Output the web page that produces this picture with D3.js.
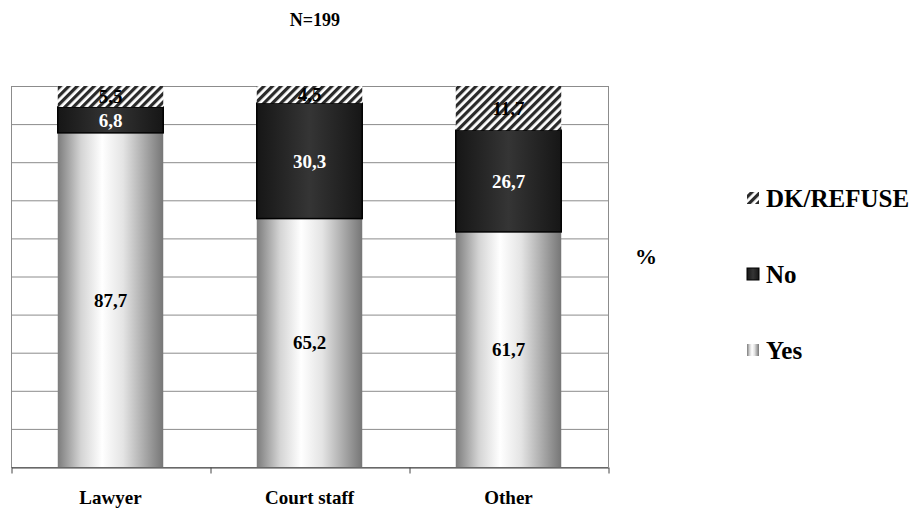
<!DOCTYPE html>
<html>
<head>
<meta charset="utf-8">
<script src="https://cdn.jsdelivr.net/npm/d3@7"></script>
<style>
  body { margin: 0; background: #fff; }
</style>
</head>
<body>
<div id="chart"></div>
<script>
const width = 914;
const height = 510;
const fontSerif = "'Liberation Serif', 'Times New Roman', 'DejaVu Serif', serif";

// datos
const categories = ['Lawyer', 'Court staff', 'Other'];
const yesValues = [87.7, 65.2, 61.7];
const noValues = [6.8, 30.3, 26.7];
const dkValues = [5.5, 4.5, 11.7];
const gridTicks = [0, 10, 20, 30, 40, 50, 60, 70, 80, 90, 100];
const legendKeys = ['DK/REFUSE', 'No', 'Yes'];
const title = 'N=199';

const plotLeft = 11;
const plotRight = 608;
const plotTop = 86;
const plotBottom = 467;

const svg = d3.select('#chart')
  .append('svg')
  .attr('width', width)
  .attr('height', height)
  .attr('font-family', fontSerif)
  .attr('font-weight', 'bold');

const defs = svg.append('defs');

// gradiente Yes
const gYes = defs.append('linearGradient').attr('id', 'gradYes')
  .attr('x1', '0%').attr('x2', '100%').attr('y1', '0%').attr('y2', '0%');
[[0, '#7c7c7c'], [0.22, '#d4d4d4'], [0.42, '#ffffff'], [0.62, '#e4e4e4'], [1, '#767676']]
  .forEach(s => gYes.append('stop').attr('offset', s[0]).attr('stop-color', s[1]));

// gradiente No
const gNo = defs.append('linearGradient').attr('id', 'gradNo')
  .attr('x1', '0%').attr('x2', '100%').attr('y1', '0%').attr('y2', '0%');
gNo.append('stop').attr('offset', '0%').attr('stop-color', '#161616');
gNo.append('stop').attr('offset', '50%').attr('stop-color', '#353535');
gNo.append('stop').attr('offset', '100%').attr('stop-color', '#161616');

// rayado DK
const pat = defs.append('pattern').attr('id', 'hatch')
  .attr('patternUnits', 'userSpaceOnUse')
  .attr('width', 6).attr('height', 6)
  .attr('patternTransform', 'rotate(45)');
pat.append('rect').attr('width', 6).attr('height', 6).attr('fill', '#ffffff');
pat.append('rect').attr('width', 3.2).attr('height', 6).attr('fill', '#2a2a2a');

const xScale = d3.scaleBand()
  .domain(categories)
  .range([plotLeft, plotRight])
  .paddingInner(0.47)
  .paddingOuter(0.235);

const xEdges = d3.scaleLinear()
  .domain([0, categories.length])
  .range([plotLeft, plotRight]);

const yScale = d3.scaleLinear()
  .domain([0, 100])
  .range([plotBottom, plotTop]);

// rejilla
svg.append('g')
  .selectAll('line')
  .data(gridTicks)
  .enter()
  .append('line')
  .attr('x1', plotLeft)
  .attr('x2', plotRight)
  .attr('y1', d => yScale(d) + 0.5)
  .attr('y2', d => yScale(d) + 0.5)
  .attr('stroke', '#8c8c8c')
  .attr('stroke-width', 1);

// bordes
svg.append('line')
  .attr('x1', plotLeft + 0.5).attr('x2', plotLeft + 0.5)
  .attr('y1', plotTop).attr('y2', plotBottom)
  .attr('stroke', '#8c8c8c');
svg.append('line')
  .attr('x1', plotRight + 0.5).attr('x2', plotRight + 0.5)
  .attr('y1', plotTop).attr('y2', plotBottom)
  .attr('stroke', '#8c8c8c');

// series apiladas
const rows = categories.map((c, i) => ({
  cat: c, yes: yesValues[i], no: noValues[i], dk: dkValues[i]
}));
const stack = d3.stack().keys(['yes', 'no', 'dk'])(rows);
const fills = { yes: 'url(#gradYes)', no: 'url(#gradNo)', dk: 'url(#hatch)' };
const labelColor = { yes: '#000', no: '#fff', dk: '#000' };

const barGroup = svg.append('g');
stack.forEach(series => {
  barGroup.selectAll('.bar-' + series.key)
    .data(series)
    .enter()
    .append('rect')
    .attr('x', d => xScale(d.data.cat))
    .attr('y', d => yScale(Math.min(d[1], 100)))
    .attr('width', xScale.bandwidth())
    .attr('height', d => yScale(d[0]) - yScale(Math.min(d[1], 100)))
    .attr('fill', fills[series.key])
    .attr('stroke', series.key === 'no' ? '#000' : 'none')
    .attr('stroke-width', 1.5);
});

// etiquetas
const fmt = v => d3.format('.1f')(v).replace('.', ',');
stack.forEach(series => {
  barGroup.selectAll('.lab-' + series.key)
    .data(series)
    .enter()
    .append('text')
    .attr('x', d => xScale(d.data.cat) + xScale.bandwidth() / 2)
    .attr('y', d => (yScale(d[0]) + yScale(Math.min(d[1], 100))) / 2)
    .attr('dy', '0.35em')
    .attr('text-anchor', 'middle')
    .attr('font-size', 19)
    .attr('fill', labelColor[series.key])
    .text(d => fmt(d.data[series.key]));
});

// eje X
const xAxis = d3.axisBottom(xEdges)
  .tickValues(d3.range(0, categories.length + 1))
  .tickSize(6)
  .tickSizeOuter(0)
  .tickFormat('');
svg.append('g')
  .attr('transform', `translate(0.5, ${plotBottom + 0.5})`)
  .call(xAxis)
  .call(g => g.selectAll('path, line').attr('stroke', '#444'));

svg.append('g')
  .selectAll('text')
  .data(categories)
  .enter()
  .append('text')
  .attr('x', d => xScale(d) + xScale.bandwidth() / 2)
  .attr('y', 504)
  .attr('text-anchor', 'middle')
  .attr('font-size', 19)
  .text(d => d);

// titulo
svg.append('text')
  .attr('x', 315)
  .attr('y', 26)
  .attr('text-anchor', 'middle')
  .attr('font-size', 18)
  .text(title);

// eje Y
svg.append('text')
  .attr('x', 646)
  .attr('y', 264)
  .attr('text-anchor', 'middle')
  .attr('font-size', 22)
  .text('%');

// leyenda
const legendY = d3.scalePoint().domain(legendKeys).range([198, 350]);
const legendFill = { 'DK/REFUSE': 'url(#hatch)', 'No': 'url(#gradNo)', 'Yes': 'url(#gradYes)' };
const legend = svg.append('g').attr('class', 'legend');
legend.selectAll('rect')
  .data(legendKeys)
  .enter()
  .append('rect')
  .attr('x', 747)
  .attr('y', d => legendY(d) - 6)
  .attr('width', 12)
  .attr('height', 12)
  .attr('fill', d => legendFill[d])
  .attr('stroke', d => d === 'No' ? '#000' : 'none');
legend.selectAll('text')
  .data(legendKeys)
  .enter()
  .append('text')
  .attr('x', 766)
  .attr('y', d => legendY(d))
  .attr('dy', '0.35em')
  .attr('font-size', 25)
  .text(d => d);
</script>
</body>
</html>
